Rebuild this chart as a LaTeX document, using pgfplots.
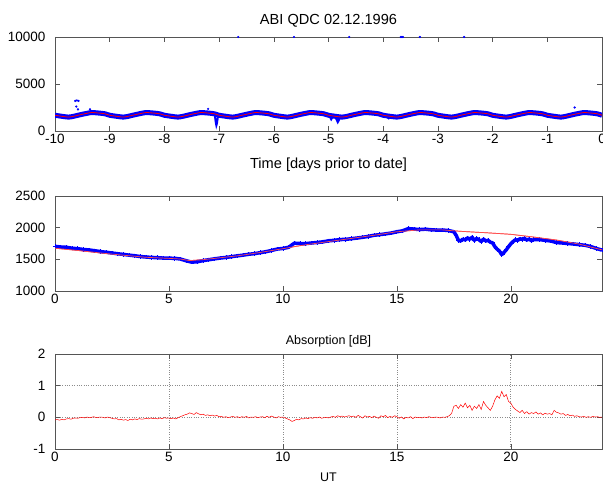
\documentclass[border=0pt]{standalone}
\usepackage{fontspec}
\setmainfont{Liberation Sans}
\usepackage{pgfplots}
\usepackage{pgfplotstable}
\pgfplotsset{compat=1.18}
\definecolor{axgray}{RGB}{85,85,85}

% QDC pattern repeated over the ten days (top panel)
\pgfplotstableread{
x y
-10 1675
-9.9167 1600
-9.8333 1530
-9.75 1480
-9.6667 1555
-9.5833 1670
-9.5 1780
-9.4167 1880
-9.3333 1965
-9.25 1935
-9.1667 1890
-9.0833 1825
-9 1675
-8.9167 1600
-8.8333 1530
-8.75 1480
-8.6667 1555
-8.5833 1670
-8.5 1780
-8.4167 1880
-8.3333 1965
-8.25 1935
-8.1667 1890
-8.0833 1825
-8 1675
-7.9167 1600
-7.8333 1530
-7.75 1480
-7.6667 1555
-7.5833 1670
-7.5 1780
-7.4167 1880
-7.3333 1965
-7.25 1935
-7.1667 1890
-7.0833 1825
-7 1675
-6.9167 1600
-6.8333 1530
-6.75 1480
-6.6667 1555
-6.5833 1670
-6.5 1780
-6.4167 1880
-6.3333 1965
-6.25 1935
-6.1667 1890
-6.0833 1825
-6 1675
-5.9167 1600
-5.8333 1530
-5.75 1480
-5.6667 1555
-5.5833 1670
-5.5 1780
-5.4167 1880
-5.3333 1965
-5.25 1935
-5.1667 1890
-5.0833 1825
-5 1675
-4.9167 1600
-4.8333 1530
-4.75 1480
-4.6667 1555
-4.5833 1670
-4.5 1780
-4.4167 1880
-4.3333 1965
-4.25 1935
-4.1667 1890
-4.0833 1825
-4 1675
-3.9167 1600
-3.8333 1530
-3.75 1480
-3.6667 1555
-3.5833 1670
-3.5 1780
-3.4167 1880
-3.3333 1965
-3.25 1935
-3.1667 1890
-3.0833 1825
-3 1675
-2.9167 1600
-2.8333 1530
-2.75 1480
-2.6667 1555
-2.5833 1670
-2.5 1780
-2.4167 1880
-2.3333 1965
-2.25 1935
-2.1667 1890
-2.0833 1825
-2 1675
-1.9167 1600
-1.8333 1530
-1.75 1480
-1.6667 1555
-1.5833 1670
-1.5 1780
-1.4167 1880
-1.3333 1965
-1.25 1935
-1.1667 1890
-1.0833 1825
-1 1675
-0.9167 1600
-0.8333 1530
-0.75 1480
-0.6667 1555
-0.5833 1670
-0.5 1780
-0.4167 1880
-0.3333 1965
-0.25 1935
-0.1667 1890
-0.0833 1825
0 1675
}\topqdc

% measured data, day of date (middle panel)
\pgfplotstableread{
x y
0 1705
0.25 1695
0.5 1690
0.75 1675
1 1668
1.25 1655
1.5 1648
1.75 1635
2 1622
2.25 1612
2.5 1600
2.75 1588
3 1578
3.25 1566
3.5 1556
3.75 1544
4 1536
4.25 1530
4.5 1526
4.75 1520
5 1518
5.25 1516
5.5 1505
5.75 1478
6 1455
6.25 1462
6.5 1480
6.75 1494
7 1508
7.25 1520
7.5 1530
7.75 1542
8 1555
8.25 1566
8.5 1580
8.75 1590
9 1605
9.25 1620
9.5 1640
9.75 1662
10 1672
10.25 1690
10.5 1755
10.75 1750
11 1748
11.25 1758
11.5 1766
11.75 1776
12 1792
12.25 1800
12.5 1812
12.75 1815
13 1826
13.25 1836
13.5 1848
13.75 1862
14 1880
14.25 1890
14.5 1902
14.75 1915
15 1935
15.25 1950
15.5 1985
15.75 1978
16 1970
16.25 1976
16.5 1966
16.75 1962
17 1962
17.25 1956
17.5 1935
17.6 1880
17.7 1800
17.8 1790
17.9 1820
18.0 1805
18.1 1840
18.2 1815
18.3 1850
18.4 1800
18.5 1830
18.6 1810
18.7 1780
18.8 1820
18.9 1790
19.0 1800
19.1 1770
19.2 1760
19.3 1700
19.4 1660
19.5 1630
19.6 1575
19.7 1610
19.8 1650
19.9 1700
20.0 1745
20.1 1780
20.2 1810
20.3 1800
20.4 1825
20.5 1815
20.6 1830
20.7 1805
20.8 1820
20.9 1795
21.0 1810
21.25 1812
21.5 1800
21.75 1790
22 1765
22.25 1758
22.5 1750
22.75 1742
23 1732
23.25 1722
23.5 1702
23.75 1672
24 1645
}\daydata

% QDC for the day (middle panel)
\pgfplotstableread{
x y
0 1675
1 1640
2 1600
3 1565
4 1532
5 1515
5.5 1505
5.9 1480
6.5 1495
7 1515
8 1555
9 1608
10 1668
10.5 1700
11 1730
12 1780
13 1830
14 1880
15 1935
16 1965
17 1965
17.5 1950
18 1938
19 1918
20 1895
21 1852
22 1805
23 1740
24 1650
}\dayqdc

\pgfplotsset{
  base/.style={
    scale only axis, width=547bp,
    axis line style={axgray, line width=0.6bp},
    tick style={axgray, line width=0.6bp},
    tick align=inside,
    major tick length=5bp,
    ticklabel style={font=\fontsize{13.5bp}{15bp}\selectfont, text=black},
    /pgf/number format/assume math mode=true,
    /pgf/number format/set thousands separator={},
    scaled ticks=false,
    yticklabel style={xshift=-6bp},
    clip mode=individual,
  }
}

\begin{document}
\begin{tikzpicture}
\begin{axis}[base, at={(55bp,352bp)}, anchor=south west, height=94bp,
  xmin=-10, xmax=0, ymin=0, ymax=10000,
  xtick={-10,-9,...,0}, ytick={0,5000,10000}]
\addplot[blue, line width=5bp, smooth, line join=round] table {\topqdc};
\addplot[blue, line width=2bp] coordinates {(-7.08,1750)(-7.06,900)(-7.05,600)(-7.04,800)(-7.02,1600)};
\addplot[blue, line width=2bp] coordinates {(-4.98,1600)(-4.95,1250)(-4.92,1550)};
\addplot[blue, line width=2.5bp] coordinates {(-4.87,1500)(-4.83,1000)(-4.79,1450)};
\addplot[blue, line width=2bp] coordinates {(-3.94,1550)(-3.9,1350)(-3.86,1550)};
\addplot[blue, only marks, mark=*, mark size=0.9bp] coordinates {
 (-9.63,3200)(-9.6,3250)(-9.57,3200)(-9.61,2600)(-9.58,2300)
 (-9.36,2300)(-7.2,2350)(-0.5,2500)
 (-6.65,10000)(-5.63,10000)(-4.62,10000)(-3.68,10000)(-3.66,10000)
 (-3.64,10000)(-3.33,10000)(-2.52,10000)};
\addplot[red, line width=0.8bp, smooth] table {\topqdc};
\end{axis}

\begin{axis}[base, at={(55bp,192bp)}, anchor=south west, height=95bp,
  xmin=0, xmax=24, ymin=1000, ymax=2500,
  xtick={0,5,10,15,20}, ytick={1000,1500,2000,2500}]
\addplot[red!70, line width=0.7bp] table {\dayqdc};
\addplot[blue, line width=3.5bp, line join=round, mark=+, mark size=2.2bp,
  mark options={line width=0.8bp}] table {\daydata};
\addplot[red!70, line width=0.7bp, forget plot] table[x=x,y=y] {\dayqdc};
\end{axis}

\begin{axis}[base, at={(55bp,34bp)}, anchor=south west, height=95bp,
  xmin=0, xmax=24, ymin=-1, ymax=2,
  xtick={0,5,10,15,20}, ytick={-1,0,1,2},
  grid=major, grid style={black!45, dotted, line width=0.7bp}]
\addplot[red, line width=0.5bp] coordinates {
(0.0,-0.08)(0.1,-0.07)(0.2,-0.09)(0.3,-0.06)(0.4,-0.08)(0.5,-0.05)(0.6,-0.04)(0.7,-0.06)(0.8,-0.03)(0.9,-0.02)
(1.0,-0.03)(1.1,-0.01)(1.2,0.00)(1.3,-0.02)(1.4,0.01)(1.5,-0.01)(1.6,0.00)(1.7,0.02)(1.8,-0.01)(1.9,0.00)
(2.0,0.01)(2.1,0.00)(2.2,-0.02)(2.3,0.01)(2.4,-0.01)(2.5,-0.03)(2.6,-0.05)(2.7,-0.04)(2.8,-0.08)(2.9,-0.06)
(3.0,-0.09)(3.1,-0.07)(3.2,-0.10)(3.3,-0.06)(3.4,-0.08)(3.5,-0.05)(3.6,-0.07)(3.7,-0.04)(3.8,-0.06)(3.9,-0.05)
(4.0,-0.03)(4.1,-0.05)(4.2,-0.02)(4.3,-0.04)(4.4,-0.03)(4.5,-0.05)(4.6,-0.02)(4.7,-0.04)(4.8,-0.01)(4.9,-0.03)
(5.0,-0.02)(5.1,-0.04)(5.2,-0.02)(5.3,-0.05)(5.4,-0.01)(5.5,0.02)(5.6,0.05)(5.7,0.08)(5.8,0.10)(5.9,0.14)
(6.0,0.12)(6.1,0.09)(6.2,0.15)(6.3,0.11)(6.4,0.08)(6.5,0.10)(6.6,0.06)(6.7,0.08)(6.8,0.05)(6.9,0.07)
(7.0,0.04)(7.1,0.06)(7.2,0.02)(7.3,0.03)(7.4,0.00)(7.5,0.02)(7.6,-0.01)(7.7,0.01)(7.8,0.03)(7.9,0.00)
(8.0,0.02)(8.1,-0.01)(8.2,0.02)(8.3,0.00)(8.4,0.03)(8.5,-0.02)(8.6,0.01)(8.7,0.00)(8.8,0.02)(8.9,-0.01)
(9.0,0.01)(9.1,0.02)(9.2,-0.01)(9.3,0.03)(9.4,0.00)(9.5,0.04)(9.6,0.01)(9.7,-0.02)(9.8,0.02)(9.9,0.00)
(10.0,0.01)(10.1,-0.02)(10.2,-0.05)(10.3,-0.08)(10.4,-0.13)(10.5,-0.10)(10.6,-0.06)(10.7,-0.08)(10.8,-0.04)(10.9,-0.05)
(11.0,-0.02)(11.1,-0.04)(11.2,-0.01)(11.3,-0.03)(11.4,0.00)(11.5,-0.02)(11.6,0.01)(11.7,-0.03)(11.8,-0.01)(11.9,0.00)
(12.0,-0.02)(12.1,0.01)(12.2,0.03)(12.3,0.00)(12.4,0.05)(12.5,0.02)(12.6,0.04)(12.7,0.01)(12.8,0.03)(12.9,0.05)
(13.0,0.02)(13.1,0.04)(13.2,0.00)(13.3,0.06)(13.4,0.02)(13.5,-0.02)(13.6,0.05)(13.7,0.01)(13.8,0.03)(13.9,-0.01)
(14.0,0.04)(14.1,0.00)(14.2,-0.03)(14.3,0.05)(14.4,0.02)(14.5,0.06)(14.6,-0.01)(14.7,0.03)(14.8,0.00)(14.9,0.05)
(15.0,0.02)(15.1,-0.03)(15.2,0.01)(15.3,-0.05)(15.4,0.00)(15.5,-0.02)(15.6,0.02)(15.7,-0.04)(15.8,0.01)(15.9,-0.01)
(16.0,0.00)(16.1,-0.02)(16.2,0.01)(16.3,-0.01)(16.4,0.02)(16.5,0.00)(16.6,-0.01)(16.7,0.01)(16.8,0.00)(16.9,-0.02)
(17.0,0.01)(17.1,0.00)(17.2,0.02)(17.3,0.05)(17.4,0.12)(17.5,0.35)(17.6,0.38)(17.7,0.28)(17.8,0.40)(17.9,0.32)
(18.0,0.45)(18.1,0.30)(18.2,0.38)(18.3,0.22)(18.4,0.35)(18.5,0.28)(18.6,0.40)(18.7,0.25)(18.8,0.50)(18.9,0.38)
(19.0,0.30)(19.1,0.22)(19.2,0.35)(19.3,0.55)(19.4,0.68)(19.5,0.60)(19.6,0.82)(19.7,0.65)(19.8,0.72)(19.9,0.50)
(20.0,0.45)(20.1,0.32)(20.2,0.25)(20.3,0.20)(20.4,0.15)(20.5,0.22)(20.6,0.12)(20.7,0.18)(20.8,0.10)(20.9,0.15)
(21.0,0.12)(21.1,0.17)(21.2,0.10)(21.3,0.14)(21.4,0.08)(21.5,0.13)(21.6,0.10)(21.7,0.12)(21.8,0.08)(21.9,0.22)
(22.0,0.16)(22.1,0.14)(22.2,0.10)(22.3,0.12)(22.4,0.06)(22.5,0.09)(22.6,0.05)(22.7,0.07)(22.8,0.03)(22.9,0.05)
(23.0,0.02)(23.1,0.01)(23.2,0.03)(23.3,0.00)(23.4,0.02)(23.5,0.00)(23.6,0.03)(23.7,0.01)(23.8,0.02)(23.9,0.00)
(24.0,0.01)};
\end{axis}

\node[font=\fontsize{14.6bp}{17bp}\selectfont, anchor=base] at (328.5bp,458bp) {ABI QDC 02.12.1996};
\node[font=\fontsize{14.6bp}{17bp}\selectfont, anchor=base] at (328.5bp,314bp) {Time [days prior to date]};
\node[font=\fontsize{12.5bp}{15bp}\selectfont, anchor=base] at (328.5bp,138.5bp) {Absorption [dB]};
\node[font=\fontsize{12.5bp}{15bp}\selectfont, anchor=base] at (328.5bp,1.5bp) {UT};
\pgfresetboundingbox
\path[use as bounding box] (0,0) rectangle (603bp,483bp);
\end{tikzpicture}
\end{document}
